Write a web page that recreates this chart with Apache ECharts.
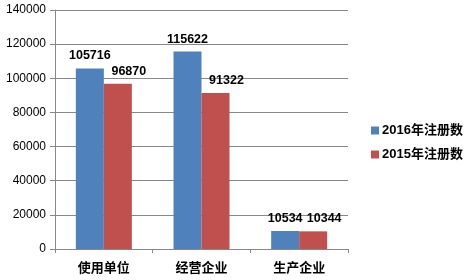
<!DOCTYPE html>
<html><head><meta charset="utf-8">
<script src="https://cdn.jsdelivr.net/npm/echarts@6/dist/echarts.min.js"></script>
<style>html,body{margin:0;padding:0;background:#fff}#c{width:467px;height:280px}</style>
</head><body><div id="c"></div>
<script>
var categories = ['使用单位', '经营企业', '生产企业'];
var series2016 = [105716, 115622, 10534];
var series2015 = [96870, 91322, 10344];
var seriesNames = ['2016年注册数', '2015年注册数'];
var yTicks = [0, 20000, 40000, 60000, 80000, 100000, 120000, 140000];

var chart = echarts.init(document.getElementById('c'));
function lbl(dx) {
  return {show: true, position: 'top', distance: 6, offset: [dx, 0], color: '#000', fontWeight: 'bold', fontSize: 12.5,
    fontFamily: 'Liberation Sans, Arial, sans-serif', formatter: function (p) { return String(p.value); }};
}
chart.setOption({
  animation: false,
  grid: {left: 55, right: 119, top: 10, bottom: 31},
  legend: {
    orient: 'vertical', left: 366, top: 119, itemWidth: 8, itemHeight: 8, itemGap: 11,
    icon: 'rect',
    textStyle: {fontSize: 13, fontWeight: 'bold', color: '#000', fontFamily: 'Liberation Sans, Noto Sans CJK SC, sans-serif', padding: [0,0,0,-2]},
    data: seriesNames
  },
  xAxis: {
    type: 'category', data: categories,
    axisLine: {lineStyle: {color: '#888'}},
    axisTick: {show: true, length: 4, lineStyle: {color: '#888'}},
    axisLabel: {color: '#000', fontSize: 13, fontWeight: 'bold', margin: 12, fontFamily: 'Noto Sans CJK SC, sans-serif'}
  },
  yAxis: {
    type: 'value', min: yTicks[0], max: yTicks[yTicks.length-1], interval: yTicks[1]-yTicks[0],
    axisLine: {show: true, lineStyle: {color: '#888'}},
    axisTick: {show: true, length: 5, lineStyle: {color: '#888'}},
    splitLine: {lineStyle: {color: '#888'}},
    axisLabel: {color: '#000', fontSize: 12, margin: 9, fontFamily: 'Liberation Sans, Arial, sans-serif',
      formatter: function (v) { return String(v); }}
  },
  series: [
    {name: seriesNames[0], type: 'bar', data: series2016, barWidth: 28, barGap: '0%', itemStyle: {color: '#4F81BD'}, label: lbl(0)},
    {name: seriesNames[1], type: 'bar', data: series2015, barWidth: 28, barGap: '0%', itemStyle: {color: '#C0504D'}, label: lbl(11)}
  ]
});
</script></body></html>
